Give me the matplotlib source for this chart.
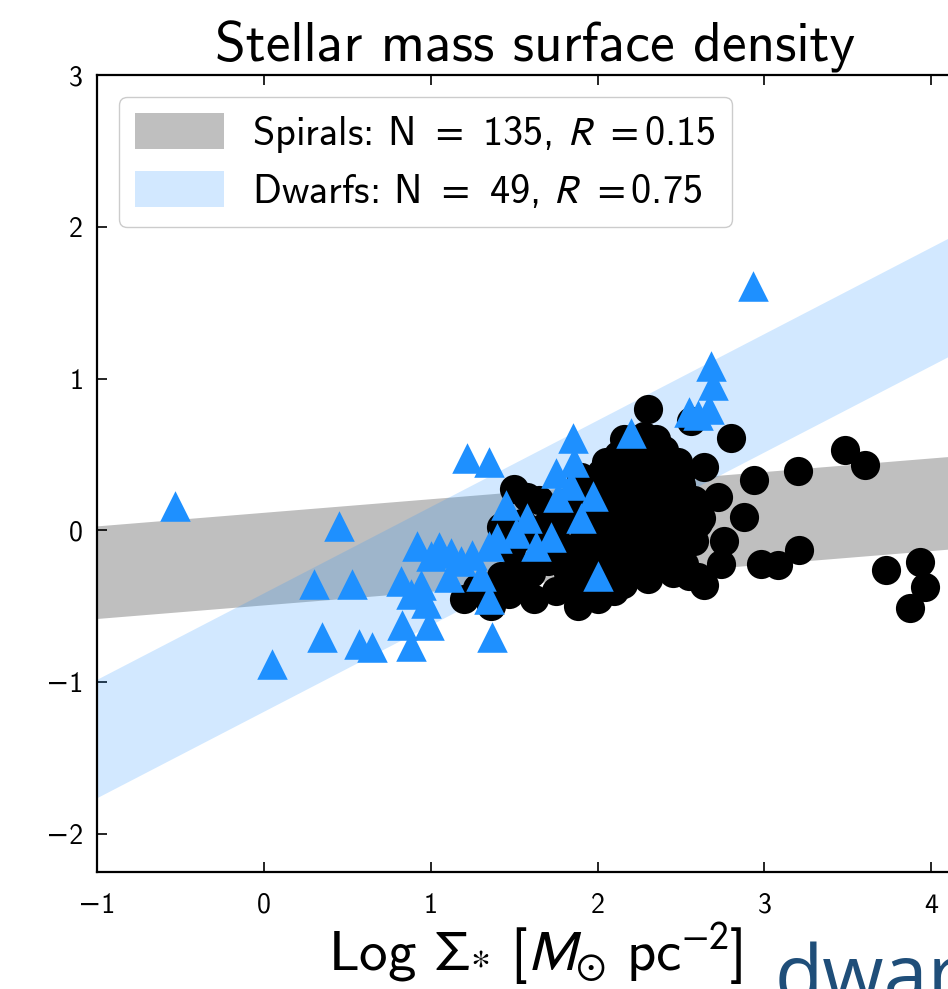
import matplotlib
matplotlib.use("Agg")
import matplotlib.pyplot as plt
import matplotlib.patches as mpatches

plt.rcParams["font.family"] = ["cmss10", "DejaVu Sans"]
plt.rcParams["mathtext.fontset"] = "stixsans"
plt.rcParams["axes.formatter.use_mathtext"] = False

# ---- data ----
spiral_x = [3.48, 3.60, 3.20, 2.94, 2.80, 3.73, 3.93, 3.96, 3.87, 2.98, 3.08, 3.21,
            2.88, 2.72, 2.76, 2.74, 2.64, 2.60,
            2.30, 2.16, 2.56, 2.40, 2.64, 2.50, 2.28, 2.22,
            1.50, 1.58, 1.65, 1.72, 1.42, 1.55, 1.62, 1.68, 1.78, 1.80, 1.78, 1.70, 1.48,
            1.20, 1.28, 1.36, 1.42, 1.55, 1.47, 1.62, 1.75, 1.82, 1.88, 1.93, 2.00, 2.07,
            2.15, 2.22, 2.30, 2.38, 2.45, 2.55, 2.58, 2.60,
            1.90, 1.95, 1.98, 2.00, 2.02, 2.05, 2.08, 2.10, 2.12, 2.14, 2.15, 2.18, 2.20,
            2.22, 2.24, 2.26, 2.28, 2.30, 2.32, 2.34, 2.36, 2.38, 2.40, 2.42, 2.44, 2.46,
            2.48, 2.50, 2.52, 2.55, 2.58, 2.62, 2.05, 2.25, 2.10, 2.28, 2.35, 1.88, 1.92,
            1.85, 2.18, 2.40, 2.20, 2.32, 2.26, 2.14, 2.06, 1.96, 2.44, 2.52, 2.36, 2.12,
            2.02, 2.48, 2.10, 1.60, 1.84, 1.95, 1.52, 1.40,
            2.08, 2.18, 2.33, 2.42, 2.24, 2.16, 2.04, 2.36, 2.46, 2.28, 1.98, 2.52, 2.12,
            2.34, 2.22]
spiral_y = [0.53, 0.43, 0.39, 0.33, 0.61, -0.26, -0.21, -0.37, -0.51, -0.22, -0.23, -0.13,
            0.09, 0.22, -0.07, -0.22, -0.36, -0.31,
            0.80, 0.60, 0.72, 0.53, 0.42, 0.38, 0.62, 0.48,
            0.27, 0.22, 0.20, 0.12, 0.02, 0.05, -0.05, 0.02, 0.06, 0.18, -0.10, -0.20, -0.12,
            -0.45, -0.38, -0.50, -0.30, -0.35, -0.42, -0.45, -0.40, -0.28, -0.50, -0.38, -0.45, -0.30,
            -0.35, -0.25, -0.32, -0.20, -0.28, -0.30, -0.07, 0.05,
            0.35, 0.20, 0.05, -0.10, -0.22, 0.30, 0.15, 0.00, -0.15, 0.42, 0.25, 0.08, -0.05,
            -0.18, 0.35, 0.18, 0.02, -0.12, 0.48, 0.28, 0.12, -0.02, -0.10, 0.40, 0.22, 0.05,
            -0.15, 0.30, 0.12, -0.02, 0.20, 0.08, 0.45, 0.55, -0.30, -0.28, 0.60, 0.10, -0.05,
            -0.15, 0.50, 0.20, 0.30, 0.10, -0.10, 0.12, -0.02, -0.25, -0.25, -0.22, 0.36, 0.32,
            0.38, 0.45, -0.40, -0.28, -0.38, -0.32, -0.25, -0.40,
            0.25, -0.28, -0.22, 0.05, 0.08, -0.08, 0.10, -0.12, 0.32, 0.40, 0.28, 0.00, 0.50,
            0.00, 0.20]

dwarf_x = [-0.53, 0.05, 0.30, 0.35, 0.45, 0.53, 0.57, 0.65, 0.82, 0.83, 0.88, 0.92,
           0.94, 0.97, 0.99, 1.05, 1.12, 1.11, 1.22, 1.35, 1.25, 1.35, 1.35, 1.37,
           1.45, 1.51, 1.63, 1.72, 1.76, 1.85, 1.86, 1.84, 1.90, 1.97, 2.00, 2.20,
           2.55, 2.67, 2.68, 2.69, 2.93, 1.18, 1.00, 1.40, 1.58, 0.88, 1.75, 1.30, 2.60]
dwarf_y = [0.16, -0.88, -0.35, -0.70, 0.03, -0.35, -0.75, -0.77, -0.33, -0.62, -0.76, -0.10,
           -0.36, -0.48, -0.62, -0.11, -0.15, -0.31, 0.48, 0.45, -0.16, -0.10, -0.45, -0.70,
           0.17, -0.02, -0.10, -0.04, 0.22, 0.61, 0.45, 0.30, 0.08, 0.23, -0.30, 0.64,
           0.78, 0.80, 1.08, 0.96, 1.61, -0.20, -0.17, -0.05, 0.08, -0.42, 0.38, -0.30, 0.76]

# scatter bands (edges at the two ends of the x range)
band_x = [-1.0, 4.25]
spiral_lo = [-0.58, -0.11]
spiral_hi = [0.03, 0.50]
dwarf_lo = [-1.76, 1.23]
dwarf_hi = [-0.98, 2.01]

spiral_label = r"Spirals: N $=$ 135, $R$ $=$0.15"
dwarf_label = r"Dwarfs: N $=$ 49, $R$ $=$0.75"

# ---- figure ----
fig = plt.figure(figsize=(9.48, 9.89), dpi=100)
ax = fig.add_axes([97 / 948, 117 / 989, 876 / 948, 797 / 989])

ax.fill_between(band_x, spiral_lo, spiral_hi, color="gray", alpha=0.5, lw=0, zorder=1)
ax.fill_between(band_x, dwarf_lo, dwarf_hi, color="dodgerblue", alpha=0.2, lw=0, zorder=2)

ax.scatter(spiral_x, spiral_y, s=441, c="black", marker="o", lw=0, zorder=3)
ax.scatter(dwarf_x, dwarf_y, s=484, c="dodgerblue", marker="^", lw=0, zorder=4)

ax.set_xlim(-1, 4.25)
ax.set_ylim(-2.25, 3)
ax.set_xticks([-1, 0, 1, 2, 3, 4])
ax.set_yticks([-2, -1, 0, 1, 2, 3])
ax.tick_params(direction="in", top=True, right=True, length=7, width=1.2, labelsize=20)
ax.tick_params(axis="x", pad=15)
ax.tick_params(axis="y", pad=10)
for sp in ax.spines.values():
    sp.set_linewidth(1.6)

ax.set_title("Stellar mass surface density", fontsize=40, pad=10)
ax.set_xlabel(r"Log $\Sigma_{*}$ [$M_{\odot}$ pc$^{-2}$]", fontsize=41, labelpad=2)

handles = [mpatches.Patch(color="gray", alpha=0.5, lw=0),
           mpatches.Patch(color="dodgerblue", alpha=0.2, lw=0)]
ax.legend(handles, [spiral_label, dwarf_label], loc="upper left", fontsize=29,
          handlelength=2.2, handleheight=1.0, handletextpad=0.7, borderpad=0.4,
          labelspacing=0.4, borderaxespad=0.55,
          fancybox=True, framealpha=1.0, edgecolor="#cccccc")

fig.text(775 / 948, -0.012, "dwarfs", color="#1f4e79", fontsize=57,
         family=["Open Sans", "DejaVu Sans"], va="baseline", ha="left")

fig.savefig("out.png", dpi=100)
